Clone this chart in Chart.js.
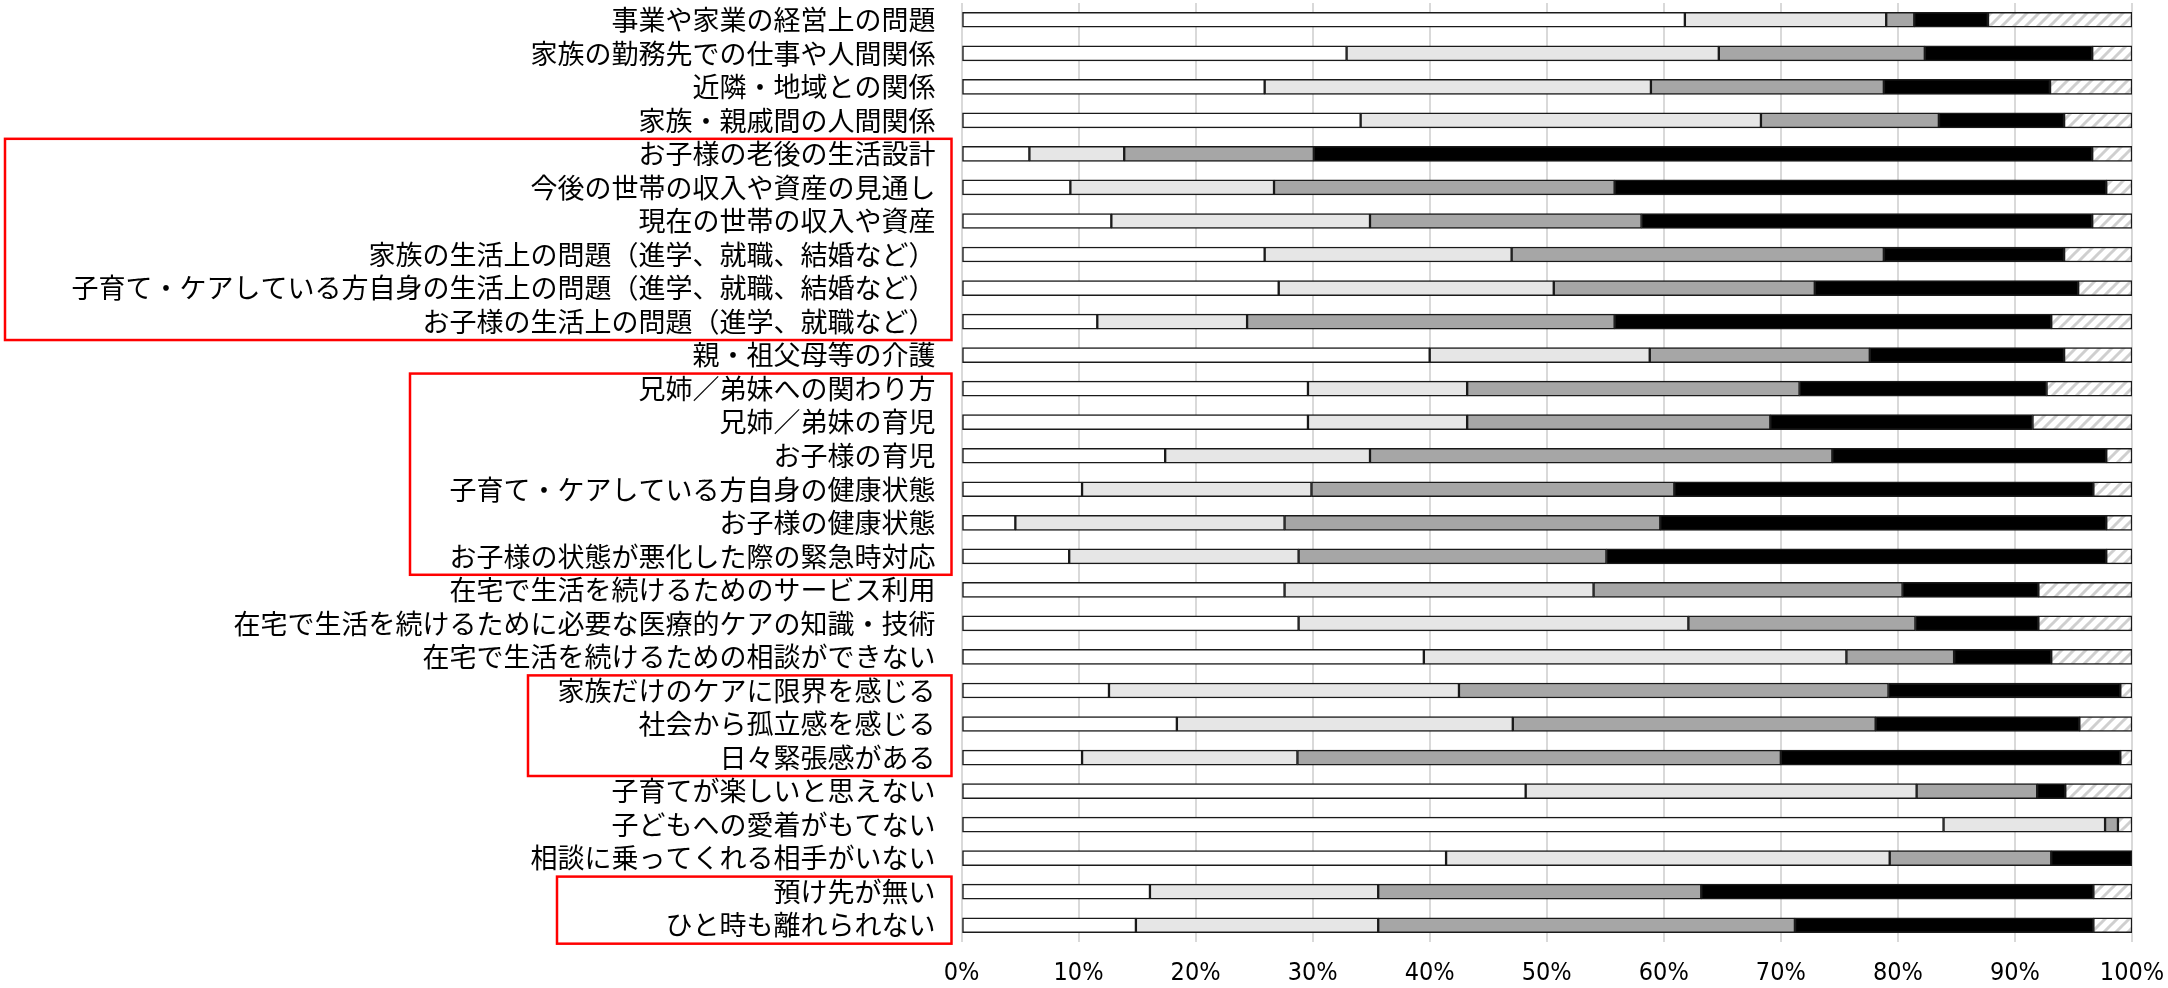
<!DOCTYPE html>
<html>
<head>
<meta charset="utf-8">
<script src="https://cdn.jsdelivr.net/npm/chart.js@4.4.1/dist/chart.umd.min.js"></script>
<style>
  html, body { margin: 0; padding: 0; background: #fff; }
  #wrap { width: 2168px; height: 988px; }
</style>
</head>
<body>
<div id="wrap"><canvas id="chart" width="2168" height="988"></canvas></div>
<script>
const categories = [
    '事業や家業の経営上の問題',
    '家族の勤務先での仕事や人間関係',
    '近隣・地域との関係',
    '家族・親戚間の人間関係',
    'お子様の老後の生活設計',
    '今後の世帯の収入や資産の見通し',
    '現在の世帯の収入や資産',
    '家族の生活上の問題（進学、就職、結婚など）',
    '子育て・ケアしている方自身の生活上の問題（進学、就職、結婚など）',
    'お子様の生活上の問題（進学、就職など）',
    '親・祖父母等の介護',
    '兄姉／弟妹への関わり方',
    '兄姉／弟妹の育児',
    'お子様の育児',
    '子育て・ケアしている方自身の健康状態',
    'お子様の健康状態',
    'お子様の状態が悪化した際の緊急時対応',
    '在宅で生活を続けるためのサービス利用',
    '在宅で生活を続けるために必要な医療的ケアの知識・技術',
    '在宅で生活を続けるための相談ができない',
    '家族だけのケアに限界を感じる',
    '社会から孤立感を感じる',
    '日々緊張感がある',
    '子育てが楽しいと思えない',
    '子どもへの愛着がもてない',
    '相談に乗ってくれる相手がいない',
    '預け先が無い',
    'ひと時も離れられない'
];

// 5 response groups, % per row
const serie1 = [61.8, 32.9, 25.9, 34.1, 5.8, 9.3, 12.8, 25.9, 27.1, 11.6, 40.0, 29.6, 29.6, 17.4, 10.3, 4.6, 9.2, 27.6, 28.8, 39.5, 12.6, 18.4, 10.3, 48.2, 83.9, 41.4, 16.1, 14.9];
const serie2 = [17.2, 31.8, 33.0, 34.2, 8.1, 17.4, 22.1, 21.1, 23.5, 12.8, 18.8, 13.6, 13.6, 17.5, 19.6, 23.0, 19.6, 26.4, 33.3, 36.1, 29.9, 28.7, 18.4, 33.4, 13.8, 37.9, 19.5, 20.7];
const serie3 = [2.4, 17.6, 19.9, 15.2, 16.2, 29.1, 23.2, 31.8, 22.3, 31.4, 18.8, 28.4, 25.9, 39.5, 31.0, 32.1, 26.3, 26.4, 19.4, 9.2, 36.7, 31.0, 41.3, 10.3, 1.1, 13.8, 27.6, 35.6];
const serie4 = [6.3, 14.3, 14.2, 10.7, 66.5, 42.0, 38.5, 15.4, 22.5, 37.3, 16.6, 21.1, 22.4, 23.4, 35.8, 38.1, 42.7, 11.6, 10.5, 8.3, 19.8, 17.4, 29.0, 2.4, 0, 6.9, 33.5, 25.5];
const serie5 = [12.3, 3.4, 7.0, 5.8, 3.4, 2.2, 3.4, 5.8, 4.6, 6.9, 5.8, 7.3, 8.5, 2.2, 3.3, 2.2, 2.2, 8.0, 8.0, 6.9, 1.0, 4.5, 1.0, 5.7, 1.2, 0, 3.3, 3.3];

const tickValues = [0, 10, 20, 30, 40, 50, 60, 70, 80, 90, 100];

// red frames around label groups (first row, last row, left edge)
const marcos = [
    { desde: 4, hasta: 9, izq: 5 },
    { desde: 11, hasta: 16, izq: 410 },
    { desde: 20, hasta: 22, izq: 528 },
    { desde: 26, hasta: 27, izq: 557 }
];

function rayado() {
    const t = document.createElement('canvas');
    t.width = 12; t.height = 12;
    const c = t.getContext('2d');
    c.fillStyle = '#ffffff';
    c.fillRect(0, 0, 12, 12);
    c.strokeStyle = '#cfcfcf';
    c.lineWidth = 3;
    c.beginPath();
    c.moveTo(-6, 6); c.lineTo(6, -6);
    c.moveTo(0, 12); c.lineTo(12, 0);
    c.moveTo(6, 18); c.lineTo(18, 6);
    c.stroke();
    return c.createPattern(t, 'repeat');
}

const ctx = document.getElementById('chart').getContext('2d');
const patron = rayado();

const marcosPlugin = {
    id: 'marcos',
    afterDraw(chart) {
        const y = chart.scales.y;
        const step = y.getPixelForValue(1) - y.getPixelForValue(0);
        const c = chart.ctx;
        c.save();
        c.strokeStyle = '#ff0000';
        c.lineWidth = 2.5;
        marcos.forEach(m => {
            const top = y.getPixelForValue(m.desde) - step * 0.45;
            const bottom = y.getPixelForValue(m.hasta) + step * 0.55;
            const right = chart.chartArea.left - 10;
            c.strokeRect(m.izq, top, right - m.izq, bottom - top);
        });
        c.restore();
    }
};

function serie(nombre, datos, color) {
    return {
        label: nombre,
        data: datos,
        backgroundColor: color,
        borderColor: '#1a1a1a',
        borderWidth: 1.5,
        borderSkipped: false,
        barThickness: 15
    };
}

new Chart(ctx, {
    type: 'bar',
    data: {
        labels: categories,
        datasets: [
            serie('1', serie1, '#ffffff'),
            serie('2', serie2, '#e6e6e6'),
            serie('3', serie3, '#a6a6a6'),
            serie('4', serie4, '#000000'),
            serie('5', serie5, patron)
        ]
    },
    options: {
        indexAxis: 'y',
        responsive: false,
        animation: false,
        devicePixelRatio: 1,
        layout: { padding: { top: 3, right: 36, left: 0, bottom: 0 } },
        plugins: {
            legend: { display: false },
            tooltip: { enabled: false }
        },
        scales: {
            x: {
                stacked: true,
                min: 0,
                max: 100,
                afterBuildTicks: s => { s.ticks = tickValues.map(v => ({ value: v })); },
                afterFit: s => { s.height = 46; s.paddingLeft = 0; s.paddingRight = 0; },
                grid: { color: '#d9d9d9', lineWidth: 2, drawTicks: false },
                border: { display: false },
                ticks: {
                    padding: 16,
                    color: '#000',
                    font: { family: "'Liberation Sans Narrow', 'DejaVu Sans Condensed', sans-serif", size: 25 },
                    callback: v => v + '%'
                }
            },
            y: {
                stacked: true,
                afterFit: s => { s.width = 961.5; s.paddingTop = 0; s.paddingBottom = 0; },
                grid: { display: false, drawTicks: false },
                border: { display: false },
                ticks: {
                    padding: 26,
                    color: '#000',
                    autoSkip: false,
                    font: { family: "'Noto Sans CJK JP', sans-serif", size: 27 }
                }
            }
        }
    },
    plugins: [marcosPlugin]
});
</script>
</body>
</html>
